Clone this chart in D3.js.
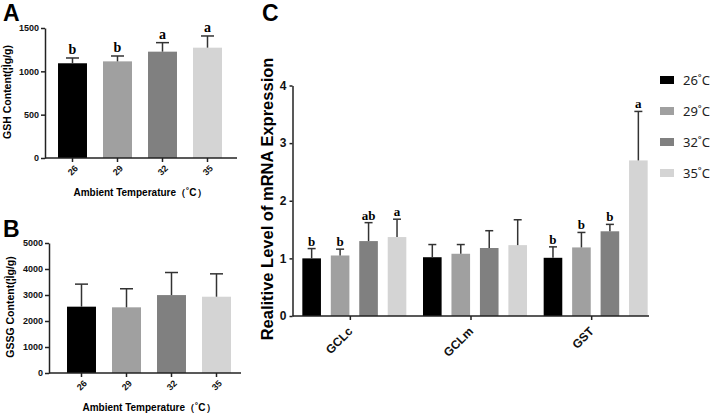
<!DOCTYPE html>
<html>
<head>
<meta charset="UTF-8" />
<title>GSH / GSSG / mRNA</title>
<script src="https://cdn.jsdelivr.net/npm/d3@7"></script>
<style>
  body { margin: 0; background: #fff; }
  svg { display: block; font-family: Arial, 'Liberation Sans', sans-serif; }
  .sig { font-family: 'Liberation Serif', 'Times New Roman', serif; font-weight: bold; }
</style>
</head>
<body>
<div id="chart"></div>
<script>
  // temperatures (groups) and colours
  const temps = ['26', '29', '32', '35']
  const tempColors = ['#000000', '#a0a0a0', '#808080', '#d4d4d4']

  // Panel A: GSH content
  const gshMean = [1093, 1115, 1227, 1273]
  const gshErr = [61, 62, 104, 135]
  const gshSig = ['b', 'b', 'a', 'a']

  // Panel B: GSSG content
  const gssgMean = [2551, 2526, 2997, 2934]
  const gssgErr = [867, 714, 868, 880]

  // Panel C: relative mRNA expression
  const genes = ['GCLc', 'GCLm', 'GST']
  const mrnaMean = [
    [1.0, 1.05, 1.30, 1.37],
    [1.02, 1.08, 1.18, 1.23],
    [1.01, 1.19, 1.47, 2.70]
  ]
  const mrnaErr = [
    [0.17, 0.11, 0.32, 0.31],
    [0.22, 0.16, 0.30, 0.44],
    [0.19, 0.26, 0.12, 0.85]
  ]
  const mrnaSig = [
    ['b', 'b', 'ab', 'a'],
    ['', '', '', ''],
    ['b', 'b', 'b', 'a']
  ]

  const svg = d3.select('#chart').append('svg')
    .attr('width', 711).attr('height', 415)

  const axisColor = '#222'
  const errColor = '#333'

  function styleAxis(g) {
    g.selectAll('path, line').attr('stroke', axisColor).attr('stroke-width', 1.5)
    g.selectAll('text').attr('fill', '#111').attr('font-weight', 'bold')
  }

  function errorBar(g, cx, yTop, yErr, capW) {
    g.append('line').attr('x1', cx).attr('x2', cx).attr('y1', yTop).attr('y2', yErr)
      .attr('stroke', errColor).attr('stroke-width', 1.5)
    g.append('line').attr('x1', cx - capW / 2).attr('x2', cx + capW / 2).attr('y1', yErr).attr('y2', yErr)
      .attr('stroke', errColor).attr('stroke-width', 1.5)
  }

  // category labels at -45 degrees, ending at the tick
  function rotatedLabels(g, names, xpos, y0, dx, dy, size) {
    names.forEach(n => {
      g.append('text')
        .attr('transform', `translate(${xpos(n) + dx},${y0 + dy}) rotate(-45)`)
        .attr('text-anchor', 'end').attr('font-size', size)
        .attr('font-weight', 'bold').attr('fill', '#111')
        .text(n)
    })
  }

  // small temperature panels (A and B)
  function smallPanel(opt) {
    const g = svg.append('g')
    const x = d3.scaleBand().domain(temps).range(opt.xRange).paddingInner(0.356).paddingOuter(0.178)
    const y = d3.scaleLinear().domain([0, opt.max]).range(opt.yRange)

    // bars + error bars
    temps.forEach((t, i) => {
      g.append('rect')
        .attr('x', x(t)).attr('width', x.bandwidth())
        .attr('y', y(opt.mean[i])).attr('height', y(0) - y(opt.mean[i]))
        .attr('fill', tempColors[i])
      const cx = x(t) + x.bandwidth() / 2
      errorBar(g, cx, y(opt.mean[i]), y(opt.mean[i] + opt.err[i]), 13)
      if (opt.sig) {
        g.append('text').attr('class', 'sig')
          .attr('x', cx).attr('y', y(opt.mean[i] + opt.err[i]) - 4)
          .attr('text-anchor', 'middle').attr('font-size', 14)
          .text(opt.sig[i])
      }
    })

    // y axis
    const ya = g.append('g').attr('transform', `translate(${opt.axisX[0]},0)`)
      .call(d3.axisLeft(y).tickValues(opt.ticks).tickFormat(d3.format('d'))
        .tickSize(4).tickPadding(2).tickSizeOuter(0))
    ya.selectAll('text').attr('font-size', 9)
    styleAxis(ya)

    // x axis
    const xa = g.append('g').attr('transform', `translate(0,${opt.yRange[0]})`)
      .call(d3.axisBottom(x).tickSize(4).tickSizeOuter(0).tickFormat(''))
    xa.select('.domain').attr('d', `M${opt.axisX[0]},0H${opt.axisX[1]}`)
    styleAxis(xa)
    rotatedLabels(g, temps, t => x(t) + x.bandwidth() / 2, opt.yRange[0], 6, 11, 9)

    // titles
    g.append('text').attr('x', opt.xLabel[0]).attr('y', opt.xLabel[1])
      .attr('text-anchor', 'middle').attr('font-size', 10).attr('font-weight', 'bold')
      .text('Ambient Temperature（˚C）')
    g.append('text')
      .attr('transform', `translate(${opt.yLabel[0]},${opt.yLabel[1]}) rotate(-90)`)
      .attr('text-anchor', 'middle').attr('font-size', 10.5).attr('font-weight', 'bold')
      .text(opt.yTitle)
    g.append('text').attr('x', opt.letter[0]).attr('y', opt.letter[1])
      .attr('font-size', 23).attr('font-weight', 'bold').text(opt.letterText)
  }

  smallPanel({
    xRange: [50, 230], yRange: [158, 28], axisX: [45, 237], max: 1500,
    ticks: [0, 500, 1000, 1500], mean: gshMean, err: gshErr, sig: gshSig,
    xLabel: [140, 196], yLabel: [11, 92], yTitle: 'GSH Content(¦Ìg/g)',
    letter: [3, 21], letterText: 'A'
  })

  smallPanel({
    xRange: [59, 239], yRange: [373, 243], axisX: [49, 241], max: 5000,
    ticks: [0, 1000, 2000, 3000, 4000, 5000], mean: gssgMean, err: gssgErr, sig: null,
    xLabel: [149, 411], yLabel: [14, 307], yTitle: 'GSSG Content(¦Ìg/g)',
    letter: [3, 237], letterText: 'B'
  })

  // Panel C: grouped bars
  const gC = svg.append('g')
  const x0 = d3.scaleBand().domain(genes).range([290, 652])
  const x1 = d3.scaleBand().domain(temps).range([0, 104]).paddingInner(0.346).paddingOuter(0)
  const yC = d3.scaleLinear().domain([0, 4]).range([316, 85.5])

  genes.forEach((gene, gi) => {
    const gx = x0(gene) + x0.bandwidth() / 2 - 48
    temps.forEach((t, i) => {
      const v = mrnaMean[gi][i]
      const bx = gx + x1(t)
      gC.append('rect')
        .attr('x', bx).attr('width', x1.bandwidth())
        .attr('y', yC(v)).attr('height', yC(0) - yC(v))
        .attr('fill', tempColors[i])
      const cx = bx + x1.bandwidth() / 2
      const top = yC(v + mrnaErr[gi][i])
      errorBar(gC, cx, yC(v), top, 8)
      if (mrnaSig[gi][i]) {
        gC.append('text').attr('class', 'sig')
          .attr('x', cx).attr('y', top - 3)
          .attr('text-anchor', 'middle').attr('font-size', 13)
          .text(mrnaSig[gi][i])
      }
    })
  })

  const yaC = gC.append('g').attr('transform', 'translate(292.5,0)')
    .call(d3.axisLeft(yC).ticks(4).tickSize(3).tickPadding(3).tickSizeOuter(0))
  yaC.selectAll('text').attr('font-size', 12)
  styleAxis(yaC)

  const xaC = gC.append('g').attr('transform', 'translate(0,316)')
    .call(d3.axisBottom(x0).tickSize(4).tickSizeOuter(0).tickFormat(''))
  xaC.select('.domain').attr('d', 'M292.5,0H649')
  styleAxis(xaC)
  rotatedLabels(gC, genes, n => x0(n) + x0.bandwidth() / 2, 316, 3, 16, 12)

  gC.append('text')
    .attr('transform', 'translate(273,199) rotate(-90)')
    .attr('text-anchor', 'middle').attr('font-size', 16.5).attr('font-weight', 'bold')
    .text('Realitive Level of mRNA Expression')
  gC.append('text').attr('x', 262).attr('y', 21)
    .attr('font-size', 23).attr('font-weight', 'bold').text('C')

  // legend
  const leg = svg.append('g').attr('transform', 'translate(660,76)')
  temps.forEach((t, i) => {
    const row = leg.append('g').attr('transform', `translate(0,${i * 31})`)
    row.append('rect').attr('width', 14).attr('height', 8).attr('fill', tempColors[i])
    row.append('text').attr('x', 23).attr('y', 9)
      .attr('font-family', "'Noto Sans', sans-serif").attr('font-size', 13).attr('fill', '#222')
      .text(t + '˚C')
  })
</script>
</body>
</html>
